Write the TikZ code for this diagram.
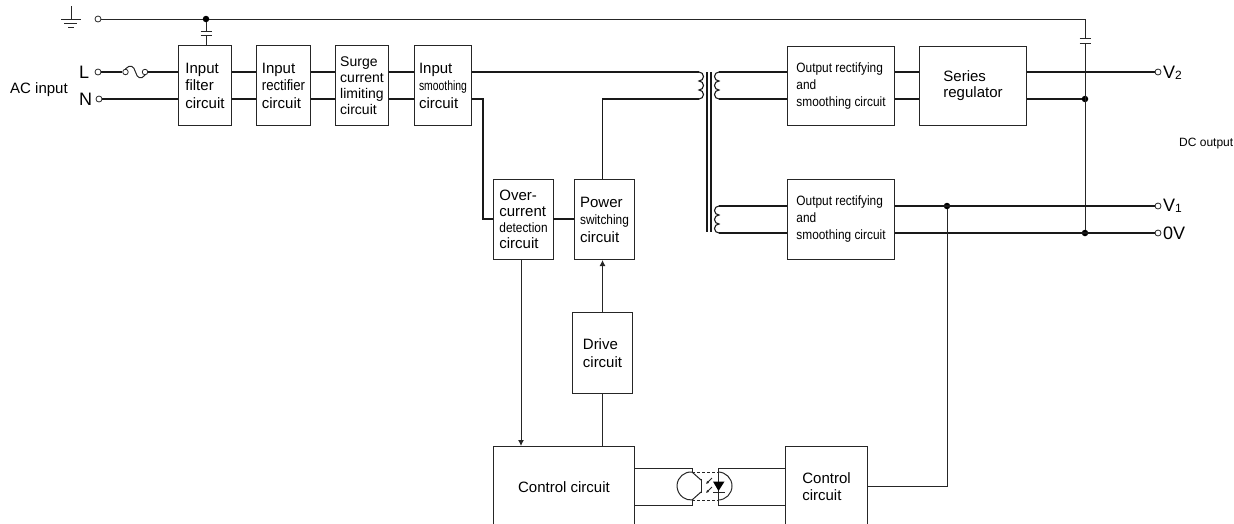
\documentclass[tikz,border=0pt]{standalone}
\usepackage{fontspec}
\setmainfont{Liberation Sans}
\newfontfamily\narrowfont[FakeStretch=0.88]{Liberation Sans}
\newfontfamily\narrowerfont[FakeStretch=0.77]{Liberation Sans}
\usetikzlibrary{arrows.meta, positioning, calc}

\begin{document}
\begin{tikzpicture}[
    x=1pt, y=-1pt,
    every node/.style={font=\fontsize{15}{17.5}\selectfont, inner sep=0pt},
    blockbox/.style={rectangle, draw=black!85, line width=1pt, align=left, anchor=north west},
    tightbox/.style={blockbox, font=\fontsize{15}{16}\selectfont},
    outputbox/.style={blockbox, font=\narrowfont\fontsize{13.5}{17}\selectfont},
    wire/.style={draw=black!90, line width=1.4pt},
    coil/.style={draw=black!90, line width=1.1pt},
    thinwire/.style={draw=black!85, line width=1pt},
    arrow/.style={thinwire, -{Latex[length=6pt, width=6pt]}},
    terminal/.style={circle, draw=black!85, fill=white, line width=0.8pt, minimum size=6pt},
    junction/.style={circle, fill=black, minimum size=6.5pt},
    biglabel/.style={anchor=west, font=\fontsize{18}{18}\selectfont}
]
\useasboundingbox (0,0) rectangle (1234,523);

% ============ TOP ROW ============
\node[blockbox, minimum width=53pt, minimum height=80pt] (filter) at (178,45) {Input\\filter\\circuit};
\node[blockbox, minimum width=54pt, minimum height=80pt] (rectifier) at (256,45) {Input\\{\narrowfont rectifier}\\circuit};
\node[tightbox, font=\fontsize{14}{16}\selectfont, minimum width=53pt, minimum height=80pt] (surge) at (335,45) {Surge\\current\\limiting\\circuit};
\node[blockbox, minimum width=57pt, minimum height=80pt] (smoothing) at (414,45) {Input\\{\narrowerfont\fontsize{13.5}{17.5}\selectfont smoothing}\\circuit};

\node[outputbox, minimum width=107pt, minimum height=79pt] (outa) at (787,46) {Output rectifying\\and\\smoothing circuit};
\node[tightbox, minimum width=107pt, minimum height=79pt] (series) at (919,46) {Series\\regulator};
\node[outputbox, minimum width=107pt, minimum height=80pt] (outb) at (787,179) {Output rectifying\\and\\smoothing circuit};

% ============ MIDDLE ============
\node[tightbox, minimum width=60pt, minimum height=80pt] (overcurrent) at (493,179) {Over-\\current\\{\narrowfont\fontsize{13.5}{16}\selectfont detection}\\circuit};
\node[blockbox, minimum width=60pt, minimum height=80pt] (power) at (574,179) {Power\\{\narrowfont\fontsize{13.5}{17.5}\selectfont switching}\\circuit};
\node[blockbox, minimum width=60pt, minimum height=81pt] (drive) at (572,312) {Drive\\circuit};

% ============ BOTTOM ============
\node[blockbox, minimum width=141pt, minimum height=82pt] (control) at (493,446) {Control circuit};
\node[blockbox, minimum width=82pt, minimum height=80pt] (controlb) at (785,446) {Control\\circuit};

% ============ TERMINALS ============
\node[terminal] (earth) at (98,19) {};
\node[terminal] (inl) at (98,72) {};
\node[terminal] (inn) at (99,99) {};
\node[terminal] (vtwo) at (1158,72) {};
\node[terminal] (vone) at (1158,206) {};
\node[terminal] (vzero) at (1158,233) {};

\node[junction] (jearth) at (206,19) {};
\node[junction] (jtwo) at (1085,99) {};
\node[junction] (jzero) at (1085,233) {};
\node[junction] (jone) at (947,206) {};

% ============ LABELS ============
\node[anchor=west] (aclabel) at (10,90) {AC input};
\node[biglabel] (llabel) at (79,72) {L};
\node[biglabel] (nlabel) at (79,99) {N};
\node[biglabel] (vtwolabel) at (1163,73) {V{\fontsize{12}{12}\selectfont\raisebox{-1.5pt}{2}}};
\node[biglabel] (vonelabel) at (1163,206) {V{\fontsize{12}{12}\selectfont\raisebox{-1.5pt}{1}}};
\node[biglabel] (vzerolabel) at (1163,233) {0V};
\node[anchor=west, font=\fontsize{12}{14}\selectfont] (dclabel) at (1179,144) {DC output};

% ============ EARTH ============
\coordinate (gtop) at (71,6);
\coordinate (gbar) at (71,19);
\draw[thinwire] (gtop) -- (gbar);
\draw[thinwire] (61,19) -- (81,19);
\draw[thinwire] (64,23) -- (77,23);
\draw[thinwire] (68,27.5) -- (74,27.5);
\draw[thinwire] (earth) -- (jearth) -- (1085,19) -- (1085,38);

% ============ CAPACITORS ============
\draw[thinwire] (jearth) -- (206,31.5);
\draw[thinwire] (200.5,31.5) -- (211.5,31.5);
\draw[thinwire] (200.5,35.5) -- (211.5,35.5);
\draw[thinwire] (206,35.5) -- (206,45);
\draw[thinwire] (1079.5,38.5) -- (1090.5,38.5);
\draw[thinwire] (1079.5,43.5) -- (1090.5,43.5);
\draw[thinwire] (1085,43.5) -- (jzero);

% ============ INPUT WIRES ============
\node[terminal, minimum size=5.5pt] (fusea) at (125.5,72) {};
\node[terminal, minimum size=5.5pt] (fuseb) at (145,72) {};
\draw[wire] (inl) -- (fusea);
\draw[wire] (fuseb) -- (filter.west |- inl);
\draw[wire] (inn) -- (filter.west |- inn);
\draw[thinwire] (fusea.north) .. controls (130,64) and (134,66) .. (135.5,72) .. controls (137,78) and (141,80) .. (fuseb.south);

\foreach \first/\second in {filter/rectifier, rectifier/surge, surge/smoothing}{
    \draw[wire] (\first.east |- inl) -- (\second.west |- inl);
    \draw[wire] (\first.east |- inn) -- (\second.west |- inn);
}

% ============ TRANSFORMER ============
\draw[wire] (707,72) -- (707,232);
\draw[wire] (711,72) -- (711,232);
\draw[wire] (smoothing.east |- inl) -- (699,72);
\draw[wire] (drive.north |- power.north) -- (drive.north |- inn) -- (699,99);
\draw[coil] (699,72) arc (90:-90:4.5pt) arc (90:-90:4.5pt) arc (90:-90:4.5pt);
\draw[wire] (719,72) -- (outa.west |- inl);
\draw[wire] (719,99) -- (outa.west |- inn);
\draw[coil] (719,72) arc (90:270:4.5pt) arc (90:270:4.5pt) arc (90:270:4.5pt);
\draw[wire] (719,206) -- (outb.west |- vone);
\draw[wire] (719,233) -- (outb.west |- vzero);
\draw[coil] (719,206) arc (90:270:4.5pt) arc (90:270:4.5pt) arc (90:270:4.5pt);

% ============ OVER-CURRENT PATH ============
\draw[wire] (smoothing.east |- inn) -- (483,99) -- (483,219) -- (493,219);
\draw[wire] (553,219) -- (574,219);
\draw[arrow] (521,259) -- (521,446);
\draw[arrow] (drive.north) -- (power.south -| drive.north);
\draw[thinwire] (drive.south) -- (control.north -| drive.south);

% ============ OUTPUT WIRES ============
\draw[wire] (outa.east |- inl) -- (series.west |- inl);
\draw[wire] (outa.east |- inn) -- (series.west |- inn);
\draw[wire] (series.east |- inl) -- (vtwo);
\draw[wire] (series.east |- inn) -- (jtwo);
\draw[wire] (outb.east |- vone) -- (vone);
\draw[wire] (outb.east |- vzero) -- (vzero);
\draw[thinwire] (jone) -- (947,486) -- (867,486);

% ============ PHOTOCOUPLER ============
\draw[thinwire] (634,468) -- (692,468) -- (692,472);
\draw[thinwire] (634,505) -- (692,505) -- (692,500);
\draw[thinwire] (785,468) -- (718,468) -- (718,505) -- (785,505);
\draw[thinwire] (692,472) arc (86:274:14pt);
\draw[thinwire] (718,472) arc (90:-90:14pt);
\draw[thinwire] (692,472) -- (701,480);
\draw[thinwire] (692,500) -- (701,492);
\draw[thinwire] (701,479) -- (701,493);
\draw[thinwire, densely dashed] (692,472) -- (718,472);
\draw[thinwire, densely dashed] (692,500) -- (718,500);
\fill[black] (713,481.5) -- (724.5,481.5) -- (718.5,491) -- cycle;
\draw[thinwire] (713,492) -- (724.5,492);
\draw[thinwire, -{Latex[length=3pt, width=3pt]}] (712,478) -- (706,484);
\draw[thinwire, -{Latex[length=3pt, width=3pt]}] (712,487) -- (706,493);
\end{tikzpicture}
\end{document}
